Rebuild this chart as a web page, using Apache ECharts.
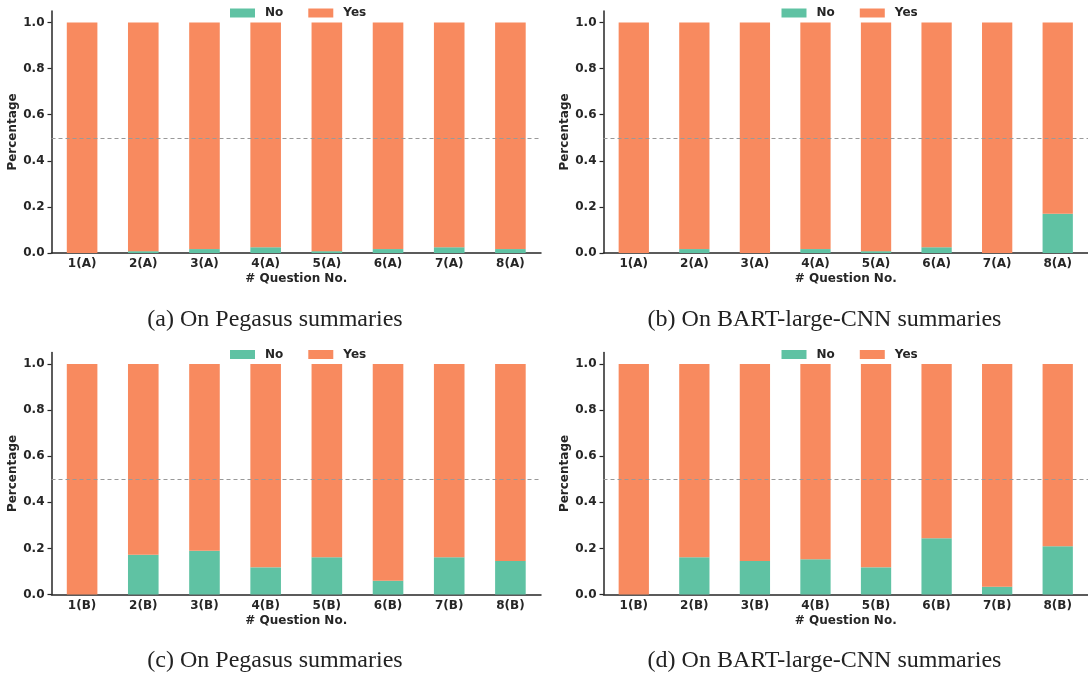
<!DOCTYPE html>
<html>
<head>
<meta charset="utf-8">
<script src="https://cdn.jsdelivr.net/npm/echarts@6/dist/echarts.min.js"></script>
<style>
  html, body { margin: 0; padding: 0; background: #fff; }
  #chart { width: 1088px; height: 674px; }
</style>
</head>
<body>
<div id="chart"></div>
<script>
const categoriesA = ['1(A)', '2(A)', '3(A)', '4(A)', '5(A)', '6(A)', '7(A)', '8(A)'];
const categoriesB = ['1(B)', '2(B)', '3(B)', '4(B)', '5(B)', '6(B)', '7(B)', '8(B)'];
const yTicks = [0, 0.2, 0.4, 0.6, 0.8, 1.0];

// (a) Pegasus, questions A
const noPegasusA = [0, 0.008, 0.017, 0.025, 0.008, 0.017, 0.025, 0.017];
const yesPegasusA = [1, 0.992, 0.983, 0.975, 0.992, 0.983, 0.975, 0.983];
// (b) BART-large-CNN, questions A
const noBartA = [0, 0.017, 0, 0.017, 0.008, 0.025, 0, 0.17];
const yesBartA = [1, 0.983, 1, 0.983, 0.992, 0.975, 1, 0.83];
// (c) Pegasus, questions B
const noPegasusB = [0, 0.172, 0.19, 0.118, 0.162, 0.06, 0.162, 0.145];
const yesPegasusB = [1, 0.828, 0.81, 0.882, 0.838, 0.94, 0.838, 0.855];
// (d) BART-large-CNN, questions B
const noBartB = [0, 0.162, 0.145, 0.153, 0.118, 0.244, 0.034, 0.209];
const yesBartB = [1, 0.838, 0.855, 0.847, 0.882, 0.756, 0.966, 0.791];

const captions = [
  '(a) On Pegasus summaries',
  '(b) On BART-large-CNN summaries',
  '(c) On Pegasus summaries',
  '(d) On BART-large-CNN summaries'
];

const NO_COLOR = '#5fc2a3';
const YES_COLOR = '#f88a5f';
const INK = '#262626';
const SANS = 'DejaVu Sans';

const panels = [
  { cats: categoriesA, no: noPegasusA, yes: yesPegasusA, left: 51.5, top: 11, width: 489.5, legendLeft: 230, capX: 275, capY: 320 },
  { cats: categoriesA, no: noBartA, yes: yesBartA, left: 603.5, top: 11, width: 488.5, legendLeft: 781.5, capX: 824.5, capY: 320 },
  { cats: categoriesB, no: noPegasusB, yes: yesPegasusB, left: 51.5, top: 352.5, width: 489.5, legendLeft: 230, capX: 275, capY: 661 },
  { cats: categoriesB, no: noBartB, yes: yesBartB, left: 603.5, top: 352.5, width: 488.5, legendLeft: 781.5, capX: 824.5, capY: 661 }
];

const chart = echarts.init(document.getElementById('chart'));

const grid = [], xAxis = [], yAxis = [], series = [], legend = [], graphic = [];

panels.forEach((p, i) => {
  grid.push({ left: p.left, top: p.top, width: p.width, height: 242, containLabel: false });

  xAxis.push({
    type: 'category',
    gridIndex: i,
    data: p.cats,
    name: '# Question No.',
    nameLocation: 'middle',
    nameGap: 20,
    nameTextStyle: { color: INK, fontFamily: SANS, fontWeight: 'bold', fontSize: 12 },
    axisLine: { lineStyle: { color: INK, width: 1.5 } },
    axisTick: { alignWithLabel: true, length: 4, lineStyle: { color: INK, width: 1.2 } },
    axisLabel: { color: INK, fontFamily: SANS, fontWeight: 'bold', fontSize: 12, margin: 5 },
    splitLine: { show: false }
  });

  yAxis.push({
    type: 'value',
    gridIndex: i,
    min: 0,
    max: 1.05,
    name: 'Percentage',
    nameLocation: 'middle',
    nameGap: 29,
    nameTextStyle: { color: INK, fontFamily: SANS, fontWeight: 'bold', fontSize: 12 },
    axisLine: { show: true, lineStyle: { color: INK, width: 1.5 } },
    axisTick: { show: true, length: 4, customValues: yTicks, lineStyle: { color: INK, width: 1.2 } },
    axisLabel: {
      color: INK, fontFamily: SANS, fontWeight: 'bold', fontSize: 12, margin: 7,
      customValues: yTicks,
      formatter: v => v.toFixed(1)
    },
    splitLine: { show: false }
  });

  series.push({
    name: 'No',
    type: 'bar',
    xAxisIndex: i,
    yAxisIndex: i,
    stack: 'panel' + i,
    barWidth: '50%',
    itemStyle: { color: NO_COLOR },
    data: p.no,
    markLine: {
      silent: true,
      symbol: 'none',
      label: { show: false },
      lineStyle: { color: '#999999', type: [4, 3], width: 1 },
      data: [{ yAxis: 0.5 }]
    }
  });
  series.push({
    name: 'Yes',
    type: 'bar',
    xAxisIndex: i,
    yAxisIndex: i,
    stack: 'panel' + i,
    barWidth: '50%',
    itemStyle: { color: YES_COLOR },
    data: p.yes
  });

  legend.push({
    data: ['No', 'Yes'],
    left: p.legendLeft,
    top: p.top - 4,
    padding: 0,
    icon: 'rect',
    itemWidth: 25,
    itemHeight: 9,
    itemGap: 25,
    selectedMode: false,
    textStyle: { color: INK, fontFamily: SANS, fontWeight: 'bold', fontSize: 12, padding: [0, 0, 0, 5] }
  });

  graphic.push({
    type: 'text',
    x: p.capX,
    y: p.capY,
    style: {
      text: captions[i],
      font: '24px "Liberation Serif"',
      fill: '#222222',
      align: 'center',
      verticalAlign: 'middle'
    }
  });
});

chart.setOption({
  animation: false,
  backgroundColor: '#ffffff',
  grid, xAxis, yAxis, series, legend, graphic
});
</script>
</body>
</html>
